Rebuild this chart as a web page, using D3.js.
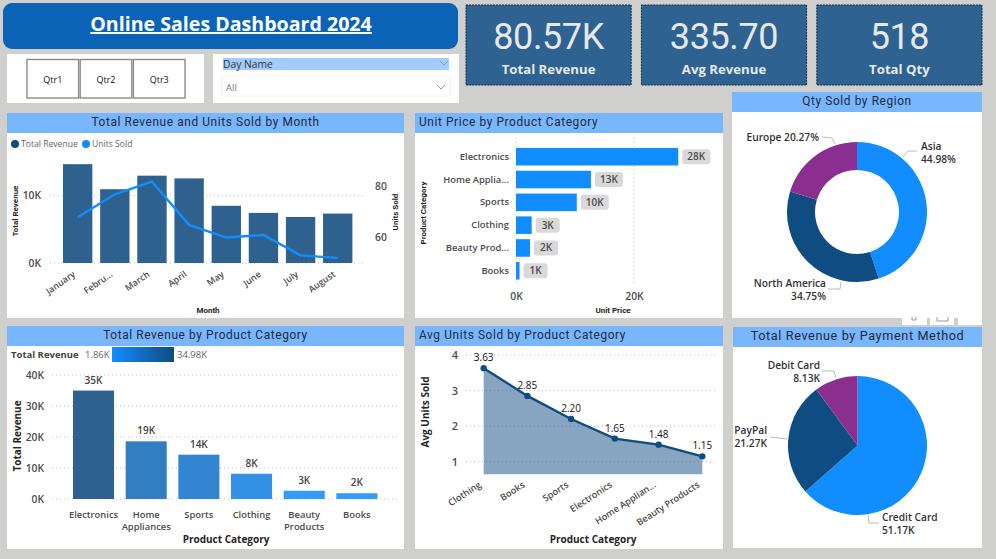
<!DOCTYPE html>
<html>
<head>
  <meta charset="utf-8">
  <title>Online Sales Dashboard 2024</title>
  <script src="https://d3js.org/d3.v7.min.js"></script>
  <style>
    body { margin: 0; background: #cfd0ce; overflow: hidden; }
    svg { display: block; }
    text { font-family: 'Open Sans', sans-serif; }
    .din { font-family: Roboto, sans-serif; letter-spacing: 0.6px; }
    .tick text { fill: #4c4c4c; font-size: 10.3px; font-weight: 600; font-family: 'Open Sans', sans-serif; }
    .axis-title { fill: #252423; font-weight: 700; text-anchor: middle; }
    .grid { stroke: #bdbdbd; stroke-dasharray: 1 3; }
  </style>
</head>
<body>
<svg width="996" height="559"></svg>
<script>
// Values
const quarters = ["Qtr1", "Qtr2", "Qtr3"];
const kpiValues = ["80.57K", "335.70", "518"];
const kpiLabels = ["Total Revenue", "Avg Revenue", "Total Qty"];

const months = ["January", "Febru...", "March", "April", "May", "June", "July", "August"];
const monthRevenue = [14600, 10900, 12900, 12500, 8450, 7400, 6800, 7300];
const monthUnits = [68, 77, 82, 65, 60, 61, 53, 52];

const priceCategories = ["Electronics", "Home Applia...", "Sports", "Clothing", "Beauty Prod...", "Books"];
const unitPrices = [27500, 12700, 10300, 2660, 2370, 600];
const unitPriceLabels = ["28K", "13K", "10K", "3K", "2K", "1K"];

const regions = ["Asia", "North America", "Europe"];
const regionShares = [44.98, 34.75, 20.27];

const revenueCategories = ["Electronics", "Home|Appliances", "Sports", "Clothing", "Beauty|Products", "Books"];
const categoryRevenue = [34980, 18600, 14300, 8150, 2660, 1860];
const categoryRevenueLabels = ["35K", "19K", "14K", "8K", "3K", "2K"];

const unitCategories = ["Clothing", "Books", "Sports", "Electronics", "Home Applian...", "Beauty Products"];
const avgUnits = [3.63, 2.85, 2.20, 1.65, 1.48, 1.15];

const payMethods = ["Credit Card", "PayPal", "Debit Card"];
const payRevenue = [51.17, 21.27, 8.13];

const blue = "#118dff", navy = "#0f4c81", purple = "#8a2f8f";
const barNavy = "#2f618f", titleBlue = "#78b6ff";

const svg = d3.select("svg");

function panel(x, y, w, h, title, align, size) {
  svg.append("rect").attr("x", x).attr("y", y).attr("width", w).attr("height", h).attr("fill", "#fff");
  svg.append("rect").attr("x", x).attr("y", y).attr("width", w).attr("height", 20).attr("fill", titleBlue);
  svg.append("text").attr("class", "din")
    .attr("x", align === "left" ? x + 4 : x + w / 2)
    .attr("y", y + 13)
    .attr("text-anchor", align === "left" ? "start" : "middle")
    .attr("font-size", size || 11.9).attr("fill", "#1f2a36")
    .text(title);
}

function axisTitle(x, y, text, size, rotate, font) {
  svg.append("text").attr("class", "axis-title")
    .attr("transform", `translate(${x},${y})` + (rotate ? " rotate(-90)" : ""))
    .attr("font-size", size)
    .style("font-family", font || null)
    .text(text);
}

function gridY(scale, ticks, x0, x1) {
  svg.append("g").selectAll("line").data(ticks).join("line")
    .attr("class", "grid")
    .attr("x1", x0).attr("x2", x1)
    .attr("y1", d => scale(d)).attr("y2", d => scale(d));
}

function cleanAxis(g) {
  g.select(".domain").remove();
  g.selectAll(".tick line").remove();
}

function tickSize(px) {
  return g => g.selectAll("text").style("font-size", px + "px");
}

// header
svg.append("rect").attr("x", 3).attr("y", 3).attr("width", 455).attr("height", 46).attr("rx", 9).attr("fill", "#0b63b5");
svg.append("text").attr("x", 231).attr("y", 31).attr("text-anchor", "middle")
  .attr("font-size", 19.6).attr("font-weight", 700).attr("fill", "#fff")
  .attr("text-decoration", "underline").text("Online Sales Dashboard 2024");

// quarter slicer
svg.append("rect").attr("x", 7).attr("y", 54).attr("width", 197).attr("height", 49).attr("fill", "#fff");
const qtrX = d3.scaleBand().domain(quarters).range([27, 185]).paddingInner(0.03);
svg.append("g").selectAll("rect").data(quarters).join("rect")
  .attr("x", d => qtrX(d)).attr("y", 59.5)
  .attr("width", qtrX.bandwidth()).attr("height", 38.5)
  .attr("fill", "#fff").attr("stroke", "#8a8a8a").attr("stroke-width", 1.4);
svg.append("g").selectAll("text").data(quarters).join("text")
  .attr("x", d => qtrX(d) + qtrX.bandwidth() / 2).attr("y", 83)
  .attr("text-anchor", "middle").attr("font-size", 9).attr("fill", "#111")
  .text(d => d);

// day name slicer
svg.append("rect").attr("x", 213).attr("y", 54).attr("width", 246).attr("height", 49).attr("fill", "#fff");
svg.append("rect").attr("x", 223).attr("y", 58).attr("width", 226).attr("height", 12).attr("fill", "#a3ccff");
svg.append("text").attr("x", 223).attr("y", 68).attr("font-size", 10.3).attr("fill", "#333").text("Day Name");
svg.append("rect").attr("x", 221.5).attr("y", 76).attr("width", 229).attr("height", 20)
  .attr("fill", "#fff").attr("stroke", "#e2e6e2").attr("stroke-dasharray", "1 1");
svg.append("text").attr("x", 226).attr("y", 91).attr("font-size", 9.5).attr("fill", "#777").text("All");
for (const [cx, cy] of [[444, 61], [441, 85]]) {
  svg.append("path").attr("d", `M${cx - 4},${cy}l4,4l4,-4`).attr("fill", "none").attr("stroke", "#999");
}

// KPI cards
const kpiX = d3.scaleBand().domain(kpiLabels).range([466, 982]).paddingInner(0.0585);
kpiLabels.forEach((label, i) => {
  const x = kpiX(label), w = kpiX.bandwidth();
  svg.append("rect").attr("x", x).attr("y", 5).attr("width", w).attr("height", 80)
    .attr("fill", "#2e6291").attr("stroke", "#10293f").attr("stroke-dasharray", "2 1");
  svg.append("text").attr("class", "din").attr("x", x + w / 2).attr("y", 49)
    .attr("text-anchor", "middle").attr("font-size", 36).style("letter-spacing", "-0.4px")
    .attr("fill", "#e6e8ea").text(kpiValues[i]);
  svg.append("text").attr("x", x + w / 2).attr("y", 74)
    .attr("text-anchor", "middle").attr("font-size", 13.2).attr("font-weight", 700).attr("fill", "#e6e8ea").text(label);
});

// Total Revenue and Units Sold by Month
panel(7, 113, 397, 205, "Total Revenue and Units Sold by Month");
const legendItems = [["Total Revenue", navy, 15], ["Units Sold", blue, 86]];
for (const [name, color, x] of legendItems) {
  svg.append("circle").attr("cx", x).attr("cy", 144).attr("r", 4).attr("fill", color);
  svg.append("text").attr("x", x + 6).attr("y", 147).attr("font-size", 8.6).attr("fill", "#666").text(name);
}
const monthX = d3.scaleBand().domain(months).range([55.2, 360.2]).padding(0.21);
const monthY = d3.scaleLinear().domain([0, 10000]).range([263, 195.3]);
const unitsY = d3.scaleLinear().domain([50, 80]).range([263, 186.7]);
gridY(monthY, [0, 10000], 50, 366);
svg.append("g").selectAll("rect").data(monthRevenue).join("rect")
  .attr("x", (d, i) => monthX(months[i])).attr("width", monthX.bandwidth())
  .attr("y", d => monthY(d)).attr("height", d => monthY(0) - monthY(d))
  .attr("fill", barNavy);
svg.append("path").datum(monthUnits)
  .attr("fill", "none").attr("stroke", blue).attr("stroke-width", 2.4)
  .attr("d", d3.line().x((d, i) => monthX(months[i]) + monthX.bandwidth() / 2).y(d => unitsY(d)));
svg.append("g").attr("transform", "translate(44,0)")
  .call(d3.axisLeft(monthY).tickValues([0, 10000]).tickFormat(d => d / 1000 + "K").tickSize(0))
  .call(cleanAxis);
svg.append("g").attr("transform", "translate(372,0)")
  .call(d3.axisRight(unitsY).tickValues([60, 80]).tickSize(0))
  .call(cleanAxis);
svg.append("g").attr("transform", "translate(0,263)")
  .call(d3.axisBottom(monthX).tickSize(0))
  .call(cleanAxis)
  .call(tickSize(9))
  .call(g => g.selectAll("text").attr("text-anchor", "end")
    .attr("transform", "translate(-7,5) rotate(-35)").attr("dy", "0.7em"));
axisTitle(208, 313, "Month", 8, false, "Roboto");
axisTitle(18, 211, "Total Revenue", 8, true, "Roboto");
axisTitle(398, 212, "Units Sold", 8, true, "Roboto");

// Unit Price by Product Category
panel(415, 113, 308, 205, "Unit Price by Product Category", "left");
const priceX = d3.scaleLinear().domain([0, 20000]).range([516, 634]);
const priceY = d3.scaleBand().domain(priceCategories).range([142.7, 284.8]).padding(0.23);
svg.append("g").selectAll("line").data([0, 20000]).join("line")
  .attr("class", "grid")
  .attr("x1", d => priceX(d)).attr("x2", d => priceX(d)).attr("y1", 138).attr("y2", 286);
svg.append("g").selectAll("rect").data(unitPrices).join("rect")
  .attr("x", priceX(0)).attr("width", d => priceX(d) - priceX(0))
  .attr("y", (d, i) => priceY(priceCategories[i])).attr("height", priceY.bandwidth())
  .attr("fill", blue);
unitPrices.forEach((d, i) => {
  const label = unitPriceLabels[i];
  const w = label.length === 3 ? 28 : 24;
  const cy = priceY(priceCategories[i]) + priceY.bandwidth() / 2;
  svg.append("rect").attr("x", priceX(d) + 4).attr("y", cy - 7.5).attr("width", w).attr("height", 15)
    .attr("rx", 3).attr("fill", "#d9d9d9");
  svg.append("text").attr("x", priceX(d) + 4 + w / 2).attr("y", cy + 3.5)
    .attr("text-anchor", "middle").attr("font-size", 10).attr("font-weight", 600).attr("fill", "#4c4c4c").text(label);
});
svg.append("g").attr("transform", "translate(509,0)")
  .call(d3.axisLeft(priceY).tickSize(0).tickPadding(0))
  .call(cleanAxis)
  .call(tickSize(9.4));
svg.append("g").attr("transform", "translate(0,290)")
  .call(d3.axisBottom(priceX).tickValues([0, 20000]).tickFormat(d => d / 1000 + "K").tickSize(0))
  .call(cleanAxis);
axisTitle(613, 313, "Unit Price", 8, false, "Roboto");
axisTitle(426, 213, "Product Category", 8, true, "Roboto");

// Qty Sold by Region
panel(732, 92, 250, 226, "Qty Sold by Region");
const pie = d3.pie().sort(null).value(d => d);
const regionArc = d3.arc().innerRadius(42).outerRadius(70);
const regionColors = [blue, navy, purple];
svg.append("g").attr("transform", "translate(857,212)")
  .selectAll("path").data(pie(regionShares)).join("path")
  .attr("d", regionArc).attr("fill", (d, i) => regionColors[i]);

function sliceLabels(rows) {
  for (const row of rows) {
    row.lines.forEach((line, i) => {
      svg.append("text").attr("x", row.x).attr("y", row.y + i * 13)
        .attr("text-anchor", row.anchor).attr("font-size", 10.2).attr("font-weight", 600)
        .attr("fill", "#333").text(line);
    });
    svg.append("path").attr("d", d3.line()(row.leader))
      .attr("fill", "none").attr("stroke", "#bbb");
  }
}
sliceLabels([
  { lines: [regions[0], regionShares[0].toFixed(2) + "%"], x: 921, y: 150, anchor: "start", leader: [[903, 157], [908, 151], [917, 151]] },
  { lines: [regions[1], regionShares[1].toFixed(2) + "%"], x: 826, y: 287, anchor: "end", leader: [[828, 289], [840, 289], [841, 282]] },
  { lines: [regions[2] + " " + regionShares[2].toFixed(2) + "%"], x: 819, y: 141, anchor: "end", leader: [[822, 137], [832, 138], [835, 144]] }
]);
// bits of the visual header poking out under the donut
svg.append("rect").attr("x", 902).attr("y", 318).attr("width", 25).attr("height", 7).attr("fill", "#fff");
svg.append("rect").attr("x", 930).attr("y", 318).attr("width", 24).attr("height", 7).attr("fill", "#fff");
svg.append("rect").attr("x", 958).attr("y", 318).attr("width", 24).attr("height", 7).attr("fill", "#fff");
svg.append("path").attr("d", "M912,317v3h4v-3M937,317v4h11v-4").attr("fill", "none").attr("stroke", "#999");

// Total Revenue by Product Category
panel(7, 326, 397, 223, "Total Revenue by Product Category");
svg.append("text").attr("x", 11).attr("y", 358).attr("font-size", 9.5).attr("font-weight", 700).attr("fill", "#444").text("Total Revenue");
svg.append("text").attr("x", 85).attr("y", 358).attr("font-size", 9.5).attr("fill", "#666").text("1.86K");
svg.append("text").attr("x", 177).attr("y", 358).attr("font-size", 9.5).attr("fill", "#666").text("34.98K");
const grad = svg.append("defs").append("linearGradient").attr("id", "revGrad");
grad.append("stop").attr("offset", "0%").attr("stop-color", blue);
grad.append("stop").attr("offset", "100%").attr("stop-color", navy);
svg.append("rect").attr("x", 112).attr("y", 347).attr("width", 62).attr("height", 15).attr("fill", "url(#revGrad)");

const revX = d3.scaleBand().domain(revenueCategories).range([61.4, 389]).padding(0.22);
const revY = d3.scaleLinear().domain([0, 40000]).range([499, 375]);
const revColor = d3.scaleLinear().domain([1860, 34980]).range(["#339bf9", barNavy]);
gridY(revY, [0, 10000, 20000, 30000, 40000], 52, 397);
svg.append("g").selectAll("rect").data(categoryRevenue).join("rect")
  .attr("x", (d, i) => revX(revenueCategories[i])).attr("width", revX.bandwidth())
  .attr("y", d => revY(d)).attr("height", d => revY(0) - revY(d))
  .attr("fill", d => revColor(d));
svg.append("g").selectAll("text").data(categoryRevenue).join("text")
  .attr("x", (d, i) => revX(revenueCategories[i]) + revX.bandwidth() / 2)
  .attr("y", d => revY(d) - 7)
  .attr("text-anchor", "middle").attr("font-size", 10).attr("font-weight", 600).attr("fill", "#444")
  .text((d, i) => categoryRevenueLabels[i]);
svg.append("g").attr("transform", "translate(44,0)")
  .call(d3.axisLeft(revY).tickValues([0, 10000, 20000, 30000, 40000]).tickFormat(d => d / 1000 + "K").tickSize(0).tickPadding(0))
  .call(cleanAxis);
svg.append("g").attr("transform", "translate(0,508)")
  .call(d3.axisBottom(revX).tickSize(0).tickFormat(() => ""))
  .call(cleanAxis)
  .call(tickSize(9.4))
  .call(g => g.selectAll(".tick text").each(function (d) {
    const t = d3.select(this);
    d.split("|").forEach((part, i) => {
      t.append("tspan").attr("x", 0).attr("dy", i ? 12.2 : 7).text(part);
    });
  }));
axisTitle(226, 543, "Product Category", 10, false);
axisTitle(21, 436, "Total Revenue", 10, true);

// Avg Units Sold by Product Category
panel(415, 326, 308, 223, "Avg Units Sold by Product Category", "left");
const unitX = d3.scalePoint().domain(unitCategories).range([483.7, 702.3]);
const unitY = d3.scaleLinear().domain([1, 4]).range([461.7, 355]);
gridY(unitY, [1, 2, 3, 4], 466, 718);
svg.append("path").datum(avgUnits)
  .attr("fill", navy).attr("fill-opacity", 0.5)
  .attr("d", d3.area().x((d, i) => unitX(unitCategories[i])).y0(474.3).y1(d => unitY(d)));
svg.append("path").datum(avgUnits)
  .attr("fill", "none").attr("stroke", navy).attr("stroke-width", 2.4)
  .attr("d", d3.line().x((d, i) => unitX(unitCategories[i])).y(d => unitY(d)));
svg.append("g").selectAll("circle").data(avgUnits).join("circle")
  .attr("cx", (d, i) => unitX(unitCategories[i])).attr("cy", d => unitY(d)).attr("r", 3.2).attr("fill", navy);
svg.append("g").selectAll("text").data(avgUnits).join("text")
  .attr("x", (d, i) => unitX(unitCategories[i])).attr("y", d => unitY(d) - 7)
  .attr("text-anchor", "middle").attr("font-size", 10).attr("fill", "#111")
  .text(d => d.toFixed(2));
svg.append("g").attr("transform", "translate(458,0)")
  .call(d3.axisLeft(unitY).tickValues([1, 2, 3, 4]).tickFormat(d3.format("d")).tickSize(0).tickPadding(0))
  .call(cleanAxis)
  .call(tickSize(11));
svg.append("g").attr("transform", "translate(0,480)")
  .call(d3.axisBottom(unitX).tickSize(0).tickPadding(0))
  .call(cleanAxis)
  .call(tickSize(9.2))
  .call(g => g.selectAll("text").attr("text-anchor", "end")
    .attr("transform", "translate(-6,1) rotate(-33)").attr("dy", "0.7em"));
axisTitle(593, 543, "Product Category", 10, false);
axisTitle(429, 412, "Avg Units Sold", 10, true);

// Total Revenue by Payment Method
panel(733, 327, 249, 221, "Total Revenue by Payment Method", "center", 12.7);
const payArc = d3.arc().innerRadius(0).outerRadius(69.5);
const payColors = [blue, navy, purple];
svg.append("g").attr("transform", "translate(857.5,445.5)")
  .selectAll("path").data(pie(payRevenue)).join("path")
  .attr("d", payArc).attr("fill", (d, i) => payColors[i]);
sliceLabels([
  { lines: [payMethods[0], payRevenue[0].toFixed(2) + "K"], x: 882, y: 521, anchor: "start", leader: [[868, 515], [869, 523], [879, 523]] },
  { lines: [payMethods[1], payRevenue[1].toFixed(2) + "K"], x: 767, y: 434, anchor: "end", leader: [[770, 437], [787, 439]] },
  { lines: [payMethods[2], payRevenue[2].toFixed(2) + "K"], x: 820, y: 369, anchor: "end", leader: [[822, 371], [834, 371], [836, 378]] }
]);
</script>
</body>
</html>
